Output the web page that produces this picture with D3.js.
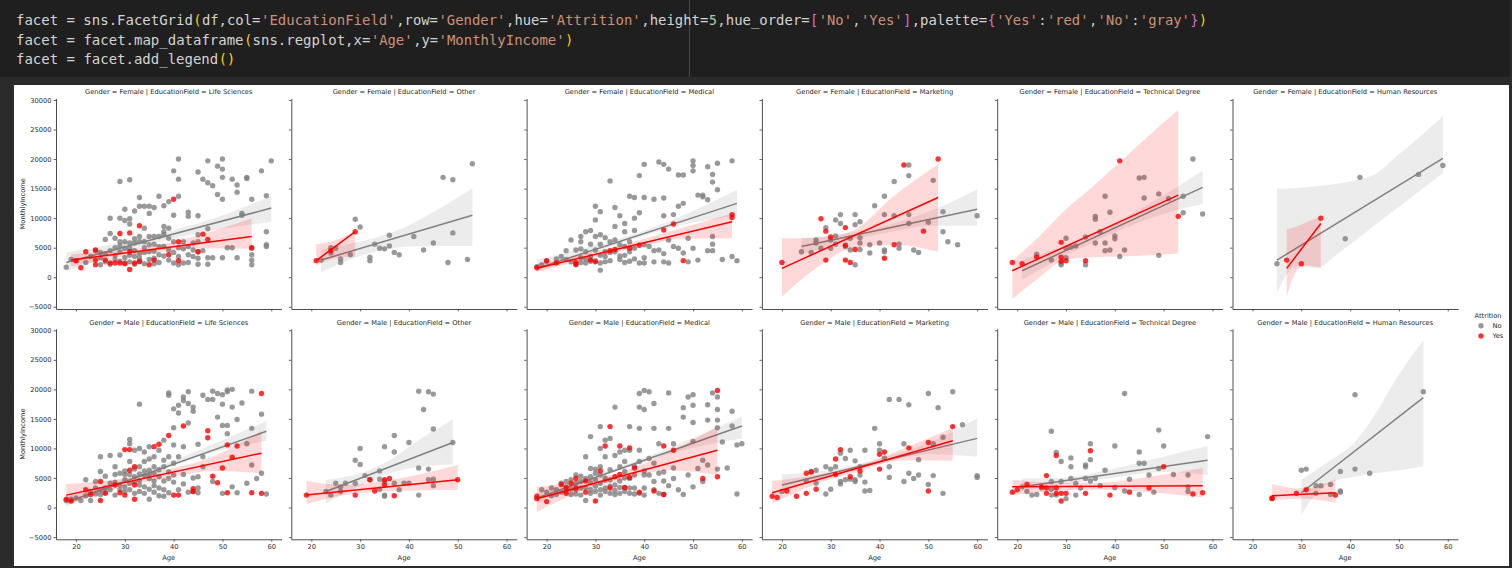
<!DOCTYPE html>
<html>
<head>
<meta charset="utf-8">
<script src="https://cdn.jsdelivr.net/npm/d3@7"></script>
<style>
  html, body { margin: 0; padding: 0; background: #2b2b2b; }
  svg { display: block; }
  .code { white-space: pre; }
</style>
</head>
<body>
<svg id="chart" width="1512" height="568"></svg>
<script>
// facet categories and ticks
const genders = ["Female", "Male"];
const fields = ["Life Sciences", "Other", "Medical", "Marketing", "Technical Degree", "Human Resources"];
const hues = ["No", "Yes"];
const xTicks = [20, 30, 40, 50, 60];
const yTicks = [-5000, 0, 5000, 10000, 15000, 20000, 25000, 30000];

// scatter points [Age, MonthlyIncome]
const fLifeNo = [[18,1700],[19,3000],[20,2800],[22,2500],[23,3500],[24,4500],[25,2100],[25,4200],[26,6400],[26,2600],[27,7400],[27,10000],[27,4500],[27,2200],[28,6600],[28,3000],[28,5000],[29,16200],[29,10000],[29,6000],[29,2700],[30,11500],[30,9600],[30,6000],[30,4900],[30,2400],[31,16500],[31,9900],[31,9000],[31,5800],[31,4900],[31,2600],[32,11200],[32,6500],[32,5800],[32,3500],[32,2200],[33,13500],[33,12000],[33,6900],[33,6000],[33,2600],[34,12000],[34,8300],[34,6000],[34,4200],[34,2300],[35,12000],[35,10800],[35,6900],[35,5500],[35,3000],[36,11800],[36,6900],[36,4400],[36,2300],[37,13700],[37,6900],[37,5200],[37,2500],[38,12100],[38,8600],[38,7700],[38,7200],[38,3600],[39,12800],[39,8300],[39,6600],[39,4600],[40,18000],[40,10500],[40,6000],[40,2400],[41,20000],[41,16600],[41,13700],[41,5000],[41,2100],[42,4800],[42,2400],[43,11000],[43,10300],[43,5200],[43,2500],[44,3500],[44,5800],[45,17800],[45,10400],[45,7200],[45,6000],[45,4300],[45,3200],[45,2200],[46,16600],[46,4500],[47,16000],[47,19700],[47,8200],[47,3300],[47,2200],[48,15500],[48,3300],[49,18800],[49,14000],[50,20000],[50,18300],[50,16900],[50,13200],[50,3300],[51,5000],[52,16600],[52,5000],[53,15600],[53,14400],[53,3300],[54,10800],[54,10500],[55,16900],[55,16700],[56,13200],[56,4900],[56,3800],[56,2900],[56,2100],[58,18000],[59,13800],[59,7700],[59,5500],[59,5200],[60,19700],[25,3300],[26,4000],[28,3700],[29,4300],[30,3300],[31,3700],[32,4500],[33,4000],[34,5000],[35,4300],[36,5600],[37,3800],[38,5200],[39,2900],[40,4200],[41,3500],[42,6000],[43,3800],[44,4600],[36,3200],[33,3300],[29,5300]];
const fLifeYes = [[20,2800],[21,1600],[22,4300],[24,4600],[24,2900],[24,2100],[26,2900],[27,2400],[28,2400],[29,2400],[29,7400],[30,2300],[31,7500],[31,4300],[31,1300],[32,2400],[33,8700],[33,2700],[35,2100],[36,2900],[39,3800],[40,13200],[41,6000],[41,2800],[45,4300],[46,7300],[47,6400],[56,5000]];
const fOtherNo = [[22,2900],[24,5000],[24,4100],[25,4900],[26,3100],[26,2500],[28,3800],[29,9800],[30,8500],[32,3400],[32,2800],[33,5600],[34,4900],[35,4800],[36,7100],[36,5300],[37,4200],[38,3800],[41,6900],[43,4600],[45,5800],[47,16900],[48,2500],[49,16500],[49,7500],[52,3000],[53,19200]];
const fOtherYes = [[21,2800],[24,4500],[29,7700]];
const fMedNo = [[18,1800],[19,2100],[20,2700],[22,3100],[23,3500],[24,4500],[25,6300],[26,2100],[26,4600],[27,6900],[27,6000],[27,4800],[27,2500],[28,7700],[28,4300],[28,2400],[29,7900],[29,5600],[29,3500],[30,12000],[30,9700],[30,6900],[30,4600],[30,2800],[31,11100],[31,7200],[31,5600],[31,2400],[31,1200],[32,6700],[32,4300],[32,2600],[33,16300],[33,6000],[33,2800],[34,11800],[34,8600],[34,6300],[34,4300],[35,10400],[35,5500],[35,3600],[36,2500],[36,9100],[36,7700],[36,5200],[37,13700],[37,6000],[37,4300],[38,13500],[38,10000],[38,7900],[38,3100],[39,17200],[39,10900],[39,2400],[40,19100],[40,13500],[40,5500],[40,2400],[41,5200],[42,13200],[42,2600],[43,19500],[43,4600],[44,19100],[44,13400],[44,10400],[44,2600],[45,18300],[45,6300],[45,2400],[46,10600],[46,5200],[47,17300],[47,12000],[47,4900],[48,17300],[48,12500],[48,4100],[49,6600],[49,2600],[50,19700],[50,18900],[50,18000],[50,4900],[51,13900],[51,2900],[52,13900],[52,13600],[53,18700],[53,13100],[53,4500],[54,17400],[54,16100],[54,6900],[54,5600],[54,4500],[55,19300],[55,14800],[56,3000],[58,19700],[58,3500],[59,2800],[24,3000],[25,2600],[27,3300],[28,3100],[29,2700],[31,3700],[32,3500],[33,4200],[35,3000],[36,3700],[37,2700],[38,4900],[40,3300],[42,4500],[44,4000]];
const fMedYes = [[18,1600],[20,2800],[22,2400],[26,2200],[26,2500],[29,2900],[30,2600],[33,4500],[34,4700],[37,4900],[39,5400],[44,8000],[46,9000],[48,2800],[58,10600],[58,10100]];
const fMktNo = [[24,4300],[26,4200],[27,6300],[27,5800],[28,4900],[29,8400],[30,6300],[30,4900],[31,9700],[31,7000],[31,5600],[32,10600],[32,9100],[33,5200],[34,4600],[34,6600],[35,10600],[35,8900],[35,2100],[36,9400],[36,6700],[36,5800],[36,4700],[38,4100],[38,5500],[39,12100],[40,5800],[41,13700],[41,10600],[41,4300],[41,4600],[43,16200],[43,10400],[44,5600],[44,4900],[46,19000],[46,17200],[46,10600],[46,9100],[47,4600],[48,4200],[50,9300],[51,16400],[53,11100],[53,7700],[54,6000],[56,5500],[60,10400]];
const fMktYes = [[20,2500],[28,9900],[29,7800],[30,6800],[29,2900],[33,8400],[33,5400],[33,2900],[34,2500],[35,4700],[41,3200],[43,5500],[45,19000],[49,7800],[52,20000]];
const fTechNo = [[24,3900],[27,2900],[29,2400],[29,2100],[30,6600],[30,4900],[30,3300],[31,5100],[32,5300],[34,2100],[34,6800],[36,10300],[36,9800],[36,5800],[37,7700],[38,13700],[38,5800],[38,4500],[39,11000],[39,4600],[40,7000],[40,6500],[41,3500],[42,4600],[45,16800],[46,16900],[46,13400],[49,14100],[49,3700],[51,13300],[54,13700],[54,10900],[56,20000],[58,10700]];
const fTechYes = [[19,2500],[21,2300],[24,3400],[29,5900],[29,3400],[29,2700],[30,2800],[34,2800],[41,19700],[53,10300]];
const fHrNo = [[25,2300],[39,6500],[42,16900],[54,17400],[59,18900]];
const fHrYes = [[27,2900],[30,2300],[34,10000]];

const mLifeNo = [[18,1200],[19,1400],[20,1600],[21,1200],[22,4700],[23,1200],[23,2700],[24,4400],[25,8600],[25,6100],[25,3000],[26,5300],[27,8800],[27,4100],[28,6900],[28,2100],[29,8900],[29,5800],[29,3800],[30,4700],[30,2700],[31,11500],[31,10800],[31,7800],[31,4100],[32,9700],[32,5200],[33,17500],[33,10000],[33,6900],[33,2700],[34,9400],[34,7800],[34,3500],[35,10300],[35,6300],[35,4900],[35,1400],[36,8600],[36,6900],[36,3700],[37,9700],[37,5200],[38,11400],[38,6900],[38,1900],[39,19400],[39,19000],[39,8600],[39,4900],[40,10600],[40,13500],[40,16700],[41,17300],[41,16000],[41,8600],[42,10300],[42,18700],[42,18100],[43,19600],[43,17600],[43,14300],[44,16300],[44,17000],[44,2700],[45,10700],[45,5200],[45,2500],[46,19000],[46,8600],[46,6900],[47,18300],[48,18300],[48,19700],[48,4400],[49,19300],[49,15300],[50,19100],[50,13900],[50,17500],[50,2400],[51,19600],[51,19900],[51,13900],[51,12500],[52,20000],[52,17000],[52,3500],[53,14900],[53,2500],[54,17700],[55,10800],[55,4100],[56,19700],[56,13400],[56,7200],[57,4900],[58,15800],[58,5800],[59,2300],[28,5600],[30,6200],[32,4300],[34,5400],[36,5800],[37,3300],[38,4500],[40,7500],[42,5600],[26,3300],[24,2300],[31,5600],[33,4600],[35,8200],[39,6000],[25,2200],[26,2600],[27,3000],[28,4300],[29,3000],[30,3500],[30,5600],[31,3000],[32,2400],[32,6500],[33,3800],[33,5700],[34,2400],[34,6200],[35,3100],[35,5600],[36,2600],[36,4500],[37,2000],[37,6400],[38,3000],[38,8000],[39,2500],[40,4300],[40,5500],[41,3000],[42,4000],[43,2600],[44,5000],[45,3300],[22,2000],[24,3300]];
const mLifeYes = [[18,1400],[19,1100],[22,3000],[23,2200],[25,1200],[25,4400],[26,2400],[28,3800],[29,2500],[30,9800],[30,2100],[31,9800],[31,6300],[32,3800],[32,6900],[32,1400],[36,10300],[37,10700],[39,12200],[40,2100],[41,2100],[42,13800],[44,3200],[44,2700],[47,13000],[47,11800],[48,5300],[49,4200],[50,6700],[51,10600],[51,2500],[52,8500],[53,10400],[56,2500],[58,19300],[58,2400]];
const mOtherNo = [[23,2700],[24,2100],[25,4100],[26,2700],[26,3500],[27,4100],[29,8000],[29,4100],[30,10000],[30,7300],[31,5400],[32,4700],[34,6200],[34,4800],[34,3100],[35,10300],[35,4400],[35,2100],[35,1900],[37,12200],[37,9400],[37,4100],[38,3000],[39,4100],[40,4100],[40,11000],[42,19700],[42,6700],[42,2100],[43,16600],[44,19600],[44,6500],[44,4700],[45,19200],[45,13300],[45,4800],[45,3700],[49,11000]];
const mOtherYes = [[19,2100],[29,2100],[32,4700],[33,2800],[35,4700],[35,3800],[36,4900],[37,2000],[50,4700]];
const mMedNo = [[19,3000],[21,3300],[22,3000],[23,4100],[24,4400],[24,2700],[25,4700],[25,2200],[26,5500],[26,3000],[27,2100],[27,4400],[28,4900],[28,1200],[28,8600],[29,6600],[29,12000],[29,2400],[30,2700],[30,4700],[31,10000],[31,6900],[31,5500],[31,4100],[31,2100],[31,13700],[32,11400],[32,8600],[32,3300],[33,11700],[33,4700],[33,2400],[34,17000],[34,8800],[34,3800],[35,9400],[35,6900],[35,2400],[36,9700],[36,7800],[36,6100],[36,3300],[37,13700],[37,9700],[37,4900],[37,2400],[38,5500],[38,3300],[39,19300],[39,17000],[39,13400],[39,9700],[39,7800],[39,2400],[40,19800],[40,16600],[40,5500],[40,2100],[41,19600],[41,5500],[42,17600],[42,13400],[42,7500],[42,4400],[43,2400],[43,10800],[44,6000],[44,2200],[45,13400],[45,19400],[45,3700],[46,10800],[46,4900],[47,3000],[48,16900],[48,15300],[48,2200],[49,18700],[49,5500],[50,19100],[50,17300],[50,14400],[50,3500],[50,11200],[51,6600],[52,4400],[52,8000],[53,17400],[53,14800],[53,7200],[54,19400],[55,18700],[55,16600],[55,14800],[55,13500],[55,6500],[56,11100],[57,6700],[58,16300],[58,13800],[59,2300],[59,10600],[60,10800],[27,3300],[29,4200],[30,5800],[32,5000],[33,6400],[34,2900],[35,4500],[36,5000],[38,7000],[40,6200],[41,8300],[43,5800],[44,4500],[46,6700],[20,2600],[21,2000],[22,2200],[23,2600],[24,3500],[25,3100],[26,2300],[26,4100],[27,5300],[28,3400],[29,3000],[29,5200],[30,3600],[30,6500],[31,3000],[32,2700],[32,4600],[33,3600],[34,2200],[35,3400],[36,2700],[37,3300],[38,2300],[40,3300],[42,3000]];
const mMedYes = [[18,1900],[18,1500],[20,1000],[23,3900],[24,3300],[24,2400],[25,4100],[26,3300],[26,4900],[28,4500],[28,2600],[30,1100],[31,6200],[32,10400],[33,13700],[33,3300],[34,5200],[35,10400],[35,5600],[36,3400],[37,10100],[37,5100],[38,6700],[39,2600],[42,2800],[44,10400],[44,2200],[46,9700],[52,4900],[55,19800],[55,5200]];
const mMktNo = [[20,2700],[25,4500],[26,6100],[27,6300],[27,4100],[29,2300],[29,6900],[30,6500],[30,3100],[31,6900],[32,9200],[32,4400],[32,4000],[33,8300],[33,4700],[34,9700],[34,4800],[35,7900],[35,4700],[35,4400],[36,5500],[36,6900],[37,9700],[37,4300],[37,2800],[38,2900],[39,13400],[40,10800],[40,9700],[41,8400],[42,18300],[42,6900],[42,5100],[44,18300],[45,10800],[45,4400],[46,17400],[46,5800],[47,4900],[48,5500],[48,8100],[50,19300],[50,3900],[51,5400],[51,10800],[52,16900],[53,11900],[53,2400],[55,19600],[57,14000],[60,5400],[60,5100]];
const mMktYes = [[18,1900],[19,1700],[21,2800],[23,1900],[25,2400],[25,5800],[26,6000],[27,3100],[31,8200],[31,5600],[32,9800],[34,5200],[36,6200],[40,9000],[40,6500],[41,9400],[46,10100],[50,11000],[50,2800],[55,13700]];
const mTechNo = [[21,3500],[22,2700],[23,2100],[24,2200],[25,3300],[27,12900],[27,4400],[27,3100],[27,2100],[28,2100],[28,9300],[29,4400],[29,7800],[30,1500],[31,8400],[31,6900],[31,4900],[32,4100],[32,2100],[33,3300],[34,6900],[34,7200],[34,4900],[35,10800],[35,8100],[35,4500],[36,4900],[37,3700],[38,6300],[40,10400],[40,3400],[42,19300],[42,2800],[43,4800],[45,9400],[45,7500],[45,2200],[46,7500],[47,5500],[48,2600],[49,13100],[49,6600],[50,10400],[52,5600],[55,5500],[55,2700],[55,3500],[59,12000]];
const mTechYes = [[19,2600],[20,3000],[22,3900],[25,3500],[26,5400],[26,3300],[26,2400],[28,8800],[28,3300],[28,2400],[29,2400],[29,1100],[30,2400],[34,2400],[35,9600],[39,2100],[43,2600],[47,3300],[50,6900],[56,2300],[58,2500]];
const mHrNo = [[30,6300],[31,6500],[33,3700],[34,3700],[36,3900],[36,2200],[38,6100],[38,2800],[38,2600],[41,19100],[41,6500],[44,5800],[55,19600],[33,2400]];
const mHrYes = [[24,1600],[29,2400],[31,3000],[37,2100],[24,1500]];

// fitted regression lines [[age0, income0], [age1, income1]]
const fLifeNoFit = [[18,2500],[60,11700]];
const fLifeYesFit = [[19,2900],[56,6900]];
const fOtherNoFit = [[22,2900],[53,10500]];
const fOtherYesFit = [[21,2800],[29,7700]];
const fMedNoFit = [[18,1500],[59,12500]];
const fMedYesFit = [[18,1500],[58,9400]];
const fMktNoFit = [[24,5200],[60,11500]];
const fMktYesFit = [[20,1500],[52,13500]];
const fTechNoFit = [[21,1100],[58,15200]];
const fTechYesFit = [[19,1100],[53,13900]];
const fHrNoFit = [[25,2900],[59,20100]];
const fHrYesFit = [[27,1500],[34,9100]];
const mLifeNoFit = [[18,900],[59,12900]];
const mLifeYesFit = [[18,2100],[58,9200]];
const mOtherNoFit = [[23,2700],[49,11000]];
const mOtherYesFit = [[19,2100],[50,4700]];
const mMedNoFit = [[18,1600],[60,13800]];
const mMedYesFit = [[18,1500],[55,9700]];
const mMktNoFit = [[20,3800],[60,11700]];
const mMktYesFit = [[18,2500],[55,11300]];
const mTechNoFit = [[21,3500],[59,8000]];
const mTechYesFit = [[19,3500],[58,3700]];
const mHrNoFit = [[30,2500],[55,18600]];
const mHrYesFit = [[24,2000],[37,2500]];

// confidence bands [age, low, high]
const fLifeNoCI = [[18,1000,4200],[28,3750,5650],[37,5950,7350],[48,7900,9900],[60,9400,13700]];
const fLifeYesCI = [[19,1800,3900],[28,3200,4500],[36,4200,5300],[46,4900,7300],[56,4800,10000]];
const fOtherNoCI = [[22,800,4700],[28,3000,5700],[34,4500,6900],[40,5200,8800],[46,5300,11500],[53,5300,15000]];
const fOtherYesCI = [[21,2000,5600],[25,3200,6300],[29,3500,7800]];
const fMedNoCI = [[18,1000,3000],[28,3700,5000],[38,6500,7300],[48,8900,10500],[59,10300,14800]];
const fMedYesCI = [[18,900,2200],[28,3000,4000],[38,4900,6000],[48,6500,8400],[58,6600,10800]];
const fMktNoCI = [[24,3800,6600],[33,6000,7400],[42,7600,8900],[51,8700,11400],[60,8700,14900]];
const fMktYesCI = [[20,-3300,6600],[27,1500,6700],[34,4800,7700],[43,5500,13800],[52,4300,19100]];
const fTechNoCI = [[21,-450,2900],[30,3700,5500],[39,7200,8800],[48,10200,12900],[58,12400,18000]];
const fTechYesCI = [[19,-3700,2800],[24,-400,6500],[30,3000,11500],[35,3400,15000],[41,3500,19500],[47,3700,24000],[53,4000,28300]];
const fHrNoCI = [[25,-2600,15000],[29,1800,15100],[33,1600,15400],[38,4300,15900],[42,6800,16600],[45,8800,17400],[50,11900,20800],[55,15100,24300],[59,17600,27200]];
const fHrYesCI = [[27,-3400,8100],[29,1000,8600],[31,2000,9300],[34,1500,10300]];
const mLifeNoCI = [[18,200,2100],[28,3600,4300],[38,6500,7300],[48,9300,10700],[59,11300,14600]];
const mLifeYesCI = [[18,450,4000],[28,3100,4700],[38,4900,6300],[48,6200,8600],[58,5800,13000]];
const mOtherNoCI = [[23,700,4700],[30,3700,5800],[36,5700,8000],[42,6900,11400],[49,7300,14900]];
const mOtherYesCI = [[19,600,4500],[27,2100,3800],[34,2700,4400],[42,2900,5600],[50,3000,7200]];
const mMedNoCI = [[18,800,2500],[28,4200,5000],[38,7100,7800],[48,9700,11100],[60,11700,15400]];
const mMedYesCI = [[18,-800,3500],[27,2700,4500],[36,4700,6200],[45,6300,9300],[55,5500,13700]];
const mMktNoCI = [[20,3000,5600],[30,5300,6400],[40,7400,8300],[50,9000,10900],[60,8600,15100]];
const mMktYesCI = [[18,700,4500],[27,4000,5500],[36,6200,7200],[45,8000,10000],[55,7900,13500]];
const mTechNoCI = [[21,2800,4900],[30,4000,5100],[40,5100,6600],[50,6000,8600],[59,5500,10400]];
const mTechYesCI = [[19,2100,4700],[28,2800,4200],[37,3000,4200],[47,2600,5200],[58,1700,6700]];
const mHrNoCI = [[30,-1200,4700],[33,2300,6300],[36,4200,8000],[41,5200,11100],[45,5800,15600],[50,6300,22500],[55,7000,28300]];
const mHrYesCI = [[24,1200,4000],[30,1500,3200],[37,800,4800]];

// facet table built from the arrays above: rows = gender, cols = field
const facets = [
  [
    { No: [fLifeNo, fLifeNoFit, fLifeNoCI], Yes: [fLifeYes, fLifeYesFit, fLifeYesCI] },
    { No: [fOtherNo, fOtherNoFit, fOtherNoCI], Yes: [fOtherYes, fOtherYesFit, fOtherYesCI] },
    { No: [fMedNo, fMedNoFit, fMedNoCI], Yes: [fMedYes, fMedYesFit, fMedYesCI] },
    { No: [fMktNo, fMktNoFit, fMktNoCI], Yes: [fMktYes, fMktYesFit, fMktYesCI] },
    { No: [fTechNo, fTechNoFit, fTechNoCI], Yes: [fTechYes, fTechYesFit, fTechYesCI] },
    { No: [fHrNo, fHrNoFit, fHrNoCI], Yes: [fHrYes, fHrYesFit, fHrYesCI] }
  ],
  [
    { No: [mLifeNo, mLifeNoFit, mLifeNoCI], Yes: [mLifeYes, mLifeYesFit, mLifeYesCI] },
    { No: [mOtherNo, mOtherNoFit, mOtherNoCI], Yes: [mOtherYes, mOtherYesFit, mOtherYesCI] },
    { No: [mMedNo, mMedNoFit, mMedNoCI], Yes: [mMedYes, mMedYesFit, mMedYesCI] },
    { No: [mMktNo, mMktNoFit, mMktNoCI], Yes: [mMktYes, mMktYesFit, mMktYesCI] },
    { No: [mTechNo, mTechNoFit, mTechNoCI], Yes: [mTechYes, mTechYesFit, mTechYesCI] },
    { No: [mHrNo, mHrNoFit, mHrNoCI], Yes: [mHrYes, mHrYesFit, mHrYesCI] }
  ]
];

const palette = { Yes: "#ff0000", No: "#808080" };

const svg = d3.select("#chart");

// ---- notebook code cell ----
svg.append("rect").attr("x", 0).attr("y", 0).attr("width", 1510).attr("height", 77).attr("fill", "#1f1f1f");
svg.append("line").attr("x1", 689.5).attr("x2", 689.5).attr("y1", 0).attr("y2", 77)
  .attr("stroke", "#4a4a4a").attr("stroke-width", 1);

const cText = "#d4d4d4", cStr = "#ce9178", cNum = "#b5cea8", cParen = "#ffd700", cBrk = "#da70d6";
const codeLines = [
  [["facet = sns.FacetGrid", cText], ["(", cParen], ["df,col=", cText], ["'EducationField'", cStr], [",row=", cText],
   ["'Gender'", cStr], [",hue=", cText], ["'Attrition'", cStr], [",height=", cText], ["5", cNum], [",hue_order=", cText],
   ["[", cBrk], ["'No'", cStr], [",", cText], ["'Yes'", cStr], ["]", cBrk], [",palette=", cText], ["{", cBrk],
   ["'Yes'", cStr], [":", cText], ["'red'", cStr], [",", cText], ["'No'", cStr], [":", cText], ["'gray'", cStr],
   ["}", cBrk], [")", cParen]],
  [["facet = facet.map_dataframe", cText], ["(", cParen], ["sns.regplot,x=", cText], ["'Age'", cStr], [",y=", cText],
   ["'MonthlyIncome'", cStr], [")", cParen]],
  [["facet = facet.add_legend", cText], ["()", cParen]]
];
// each token placed on the monospace grid
const charW = 8.45;
codeLines.forEach((tokens, i) => {
  let col = 0;
  tokens.forEach(tk => {
    svg.append("text").attr("class", "code")
      .attr("x", 16 + col * charW).attr("y", 25 + i * 19.5)
      .attr("font-family", "DejaVu Sans Mono, monospace").attr("font-size", 14.2)
      .attr("textLength", tk[0].length * charW - 0.6).attr("lengthAdjust", "spacingAndGlyphs")
      .attr("fill", tk[1]).text(tk[0]);
    col += tk[0].length;
  });
});

// ---- figure output area ----
svg.append("rect").attr("x", 14).attr("y", 85).attr("width", 1495).attr("height", 481).attr("fill", "#ffffff");

const colX0 = 56, colStep = 235.3, axW = 225.5;
const rowTop = [98.5, 328.8], axH = 210.5;
const fontFam = "DejaVu Sans, sans-serif", fs = 6.7, ink = "#262626";

const x = d3.scaleLinear().domain([15.9, 62.1]).range([0, axW]);
const y = d3.scaleLinear().domain([-5380, 30250]).range([axH, 0]);

const line = d3.line().x(d => x(d[0])).y(d => y(d[1]));
const band = d3.area().x(d => x(d[0])).y0(d => y(d[1])).y1(d => y(d[2])).curve(d3.curveMonotoneX);
const fmt = v => v < 0 ? "\u2212" + Math.abs(v) : String(v);

function styleAxis(sel) {
  sel.select(".domain").attr("stroke", "#3a3a3a").attr("stroke-width", 0.9);
  sel.selectAll(".tick line").attr("stroke", "#3a3a3a").attr("stroke-width", 0.8);
  sel.selectAll(".tick text").attr("fill", ink).attr("font-family", fontFam).attr("font-size", fs);
}

facets.forEach((row, r) => {
  row.forEach((cell, c) => {
    const g = svg.append("g").attr("transform", `translate(${colX0 + c * colStep},${rowTop[r]})`);

    // title
    g.append("text").attr("x", axW / 2).attr("y", -4.2).attr("text-anchor", "middle")
      .attr("font-family", fontFam).attr("font-size", fs).attr("fill", ink)
      .text(`Gender = ${genders[r]} | EducationField = ${fields[c]}`);

    // hue layers: scatter, band, fit line (No first, then Yes)
    hues.forEach(h => {
      const [pts, fit, ci] = cell[h];
      g.append("g").selectAll("circle").data(pts).join("circle")
        .attr("cx", d => x(d[0])).attr("cy", d => y(d[1])).attr("r", 2.7)
        .attr("fill", palette[h]).attr("fill-opacity", 0.8);
      g.append("path").datum(ci).attr("d", band)
        .attr("fill", palette[h]).attr("fill-opacity", 0.15).attr("stroke", "none");
      g.append("path").datum(fit).attr("d", line)
        .attr("fill", "none").attr("stroke", palette[h]).attr("stroke-width", 1.5);
    });

    // axes (left + bottom spines only)
    const ya = g.append("g")
      .call(d3.axisLeft(y).tickValues(yTicks).tickSize(2.4).tickSizeOuter(0).tickPadding(2.2)
        .tickFormat(c === 0 ? fmt : () => ""));
    styleAxis(ya);
    const xa = g.append("g").attr("transform", `translate(0,${axH})`)
      .call(d3.axisBottom(x).tickValues(xTicks).tickSize(2.4).tickSizeOuter(0).tickPadding(2.2)
        .tickFormat(r === 1 ? d3.format("d") : () => ""));
    styleAxis(xa);

    if (c === 0) {
      g.append("text").attr("transform", `translate(${22.7 - colX0 + 2.3},${axH / 2}) rotate(-90)`)
        .attr("text-anchor", "middle").attr("font-family", fontFam).attr("font-size", fs).attr("fill", ink)
        .text("MonthlyIncome");
    }
    if (r === 1) {
      g.append("text").attr("x", axW / 2).attr("y", axH + 20.8).attr("text-anchor", "middle")
        .attr("font-family", fontFam).attr("font-size", fs).attr("fill", ink)
        .text("Age");
    }
  });
});

// ---- legend ----
const lg = svg.append("g").attr("font-family", fontFam).attr("font-size", fs).attr("fill", ink);
lg.append("text").attr("x", 1488).attr("y", 318).attr("text-anchor", "middle").text("Attrition");
hues.forEach((h, i) => {
  lg.append("circle").attr("cx", 1481).attr("cy", 325.7 + i * 10.3).attr("r", 2.7)
    .attr("fill", palette[h]).attr("fill-opacity", 0.8);
  lg.append("text").attr("x", 1492.5).attr("y", 328.1 + i * 10.3).text(h);
});
</script>
</body>
</html>
